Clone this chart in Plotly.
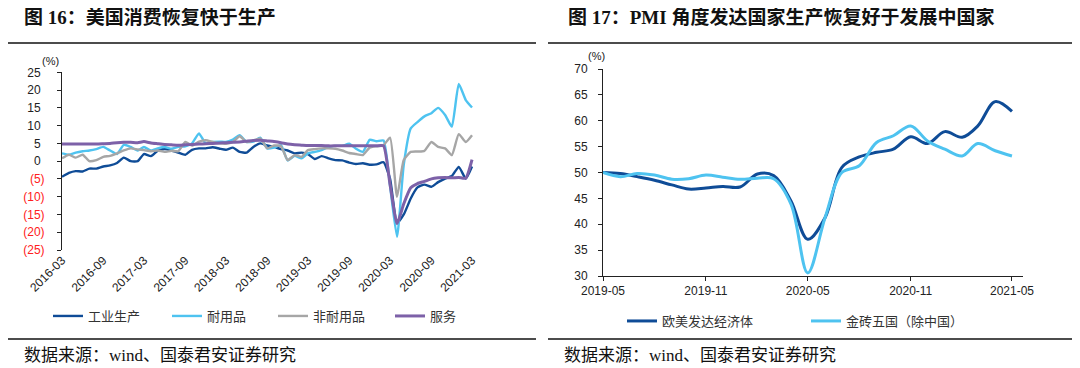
import pandas as pd
import plotly.graph_objects as go

# ---------------- data: left chart (图16) ----------------
left_months = pd.date_range("2016-03-01", "2021-03-01", freq="MS")
industrial = [-4.4, -3.3, -2.8, -2.9, -2.1, -2.1, -1.5, -1.2, -0.5, 1.0,
              0.0, 0.0, 2.0, 1.4, 2.9, 3.4, 3.0, 2.4, 1.8, 3.2,
              3.6, 3.6, 3.9, 3.5, 3.2, 3.8, 2.6, 2.4, 4.0, 5.0,
              4.4, 4.0, 3.4, 3.0, 2.2, 2.4, 2.0, 0.6, 1.4, 0.8,
              0.3, 0.2, -0.4, -0.8, -0.6, -1.0, -0.9, -0.3, -5.0, -17.4,
              -15.0, -10.5, -7.4, -6.6, -7.2, -5.9, -4.9, -4.2, -1.6, -4.9,
              -1.5]
durable = [2.2, 1.8, 2.4, 2.8, 3.0, 3.4, 4.0, 3.0, 2.0, 4.6,
           4.0, 3.0, 4.0, 3.0, 3.6, 4.0, 3.5, 4.0, 4.2, 5.0,
           7.8, 5.0, 5.4, 5.5, 5.4, 6.1, 7.3, 5.4, 5.5, 6.6,
           3.6, 3.8, 4.5, 0.2, 1.5, 0.8, 2.2, 2.6, 3.1, 4.0,
           4.3, 4.3, 4.9, 3.5, 2.6, 6.0, 5.6, 5.8, -7.0, -21.3,
           -1.0, 9.2, 11.0, 12.6, 13.5, 15.0, 13.0, 9.7, 21.7, 17.2,
           15.1]
nondurable = [0.8, 1.8, 1.0, 1.8, 0.0, 0.3, 1.2, 1.5, 2.2, 3.0,
              3.6, 3.3, 3.1, 2.8, 3.0, 2.6, 2.9, 2.8, 5.4, 4.4,
              5.5, 5.9, 5.4, 5.0, 4.9, 5.4, 7.0, 5.4, 5.8, 6.4,
              3.6, 4.4, 4.2, 0.3, 1.7, 1.2, 3.1, 3.4, 3.6, 3.6,
              3.5, 3.0, 2.3, 2.0, 1.7, 3.8, 4.2, 4.5, 6.6, -10.0,
              0.3, 2.6, 2.7, 2.9, 5.4, 4.0, 3.6, 1.7, 7.6, 5.4,
              7.3]
services = [4.8, 4.8, 4.8, 4.8, 4.8, 4.8, 4.9, 5.0, 5.2, 5.3,
            5.3, 5.2, 5.5, 5.1, 4.9, 4.7, 4.6, 4.5, 4.6, 4.7,
            4.8, 4.9, 5.0, 5.1, 5.2, 5.3, 5.4, 5.6, 5.8, 5.9,
            5.7, 5.5, 5.2, 4.8, 4.6, 4.5, 4.4, 4.4, 4.4, 4.3,
            4.3, 4.3, 4.3, 4.3, 4.3, 4.3, 4.3, 4.3, -6.6, -17.6,
            -12.0, -7.5, -6.3, -5.7, -5.0, -4.7, -4.6, -4.7, -4.6, -4.8,
            0.4]
left_names = ["工业生产", "耐用品", "非耐用品", "服务"]
left_tickvals = [25, 20, 15, 10, 5, 0, -5, -10, -15, -20, -25]
left_ticktext = ["25", "20", "15", "10", "5", "0", "(5)", "(10)", "(15)", "(20)", "(25)"]

# ---------------- data: right chart (图17) ----------------
right_months = pd.date_range("2019-05-01", "2021-05-01", freq="MS")
developed = [50.0, 49.8, 49.2, 48.5, 47.6, 46.8, 47.0, 47.3, 47.2, 49.7,
             49.4, 44.5, 37.1, 41.3, 51.0, 53.0, 53.9, 54.5, 56.9, 55.6,
             57.9, 56.8, 59.0, 63.7, 61.8]
brics = [50.0, 49.2, 49.8, 49.5, 48.7, 48.8, 49.5, 49.1, 48.7, 48.9,
         48.8, 43.9, 30.6, 41.3, 50.0, 51.3, 55.8, 57.1, 59.0, 56.1,
         54.5, 53.2, 55.6, 54.2, 53.2]
right_names = ["欧美发达经济体", "金砖五国（除中国）"]

DARK = "#0f4c97"
LIGHT = "#4ec3f0"
GRAY = "#a6a6a6"
PURPLE = "#7d61a8"

# the page body has an 8px margin: size the figure to fit and map page pixels to paper coords
OFF = 8
W, H = 1080 - OFF, 368 - OFF
def px(x): return (x - OFF) / W
def py(y): return 1 - (y - OFF) / H

TICKFONT = dict(family="Liberation Sans, Arial, sans-serif", size=12, color="#222")
LEGFONT = dict(family="Noto Sans CJK SC, sans-serif", size=13, color="#333")

fig = go.Figure()

left_series = [industrial, durable, nondurable, services]
left_colors = [DARK, LIGHT, GRAY, PURPLE]
left_widths = [2.4, 2.4, 2.4, 3.0]
left_legends = ["legend", "legend2", "legend3", "legend4"]
for name, vals, col, w, lg in zip(left_names, left_series, left_colors, left_widths, left_legends):
    fig.add_trace(go.Scatter(x=left_months, y=vals, name=name, mode="lines",
                             line=dict(color=col, width=w, shape="spline", smoothing=0.5),
                             xaxis="x", yaxis="y", legend=lg))

for name, vals, col, lg in zip(right_names, [developed, brics], [DARK, LIGHT], ["legend5", "legend6"]):
    fig.add_trace(go.Scatter(x=right_months, y=vals, name=name, mode="lines",
                             line=dict(color=col, width=3, shape="spline", smoothing=1.0),
                             xaxis="x2", yaxis="y2", legend=lg))

left_dom_x = [px(62), px(476.3)]
left_dom_y = [py(250), py(72.3)]
left_range = ["2016-03-01", "2021-03-20"]
zero_pos = left_dom_y[0] + (0 - (-25)) / 50 * (left_dom_y[1] - left_dom_y[0])

right_dom_x = [px(603), px(1022.6)]
right_dom_y = [py(276), py(69)]
right_range = ["2019-05-01", "2021-05-20"]

# negatives in red parentheses; positives padded like an accounting number format
styled_text = [f'<span style="color:#ff2020">{t}</span>' if t.startswith("(") else t + "\u2004"
               for t in left_ticktext]

fig.update_layout(
    width=W, height=H, margin=dict(l=0, r=0, t=0, b=0, autoexpand=False),
    paper_bgcolor="white", plot_bgcolor="rgba(0,0,0,0)",
    xaxis=dict(domain=left_dom_x, anchor="y", type="date", range=left_range,
               tick0="2016-03-01", dtick="M6", tickformat="%Y-%m", tickangle=-45,
               showline=False, ticks="", showgrid=False, zeroline=False,
               tickfont=TICKFONT, automargin=False),
    xaxis3=dict(overlaying="x", anchor="free", position=zero_pos, type="date", range=left_range,
                tick0="2016-03-01", dtick="M6", showticklabels=False, ticks="outside",
                ticklen=4, tickcolor="#222", showline=True, linecolor="#222", linewidth=1,
                showgrid=False, zeroline=False, automargin=False),
    yaxis=dict(domain=left_dom_y, anchor="x", range=[-25, 25], tickmode="array",
               tickvals=left_tickvals, ticktext=styled_text, showline=True, linecolor="#222",
               linewidth=1, ticks="outside", ticklen=4, tickcolor="#222", showgrid=False,
               zeroline=False, tickfont=TICKFONT, ticklabelstandoff=10, automargin=False),
    xaxis2=dict(domain=right_dom_x, anchor="y2", type="date", range=right_range,
                tick0="2019-05-01", dtick="M6", tickformat="%Y-%m", tickangle=0,
                showline=True, linecolor="#222", linewidth=1, ticks="outside", ticklen=4,
                tickcolor="#222", showgrid=False, zeroline=False, tickfont=TICKFONT,
                automargin=False),
    yaxis2=dict(domain=right_dom_y, anchor="x2", range=[30, 70], dtick=5,
                showline=True, linecolor="#222", linewidth=1, ticks="outside", ticklen=4,
                tickcolor="#222", showgrid=False, zeroline=False, tickfont=TICKFONT,
                ticklabelstandoff=8, automargin=False),
    showlegend=True,
)

def leg(x, y):
    return dict(x=px(x), y=py(y), xanchor="left", yanchor="middle", orientation="h",
                font=LEGFONT, bgcolor="rgba(0,0,0,0)", borderwidth=0, itemwidth=30)

fig.update_layout(
    legend=leg(48, 316), legend2=leg(167, 316), legend3=leg(273, 316), legend4=leg(390, 316),
    legend5=leg(622, 321), legend6=leg(806, 321),
)

TITLEFONT = dict(family="Liberation Serif, Noto Sans CJK SC, serif", size=19, color="#111")
FOOTFONT = dict(family="Liberation Serif, Noto Sans CJK SC, serif", size=17, color="#111")
anns = [
    dict(text="<b>图 16：美国消费恢复快于生产</b>", x=px(22), y=py(17), font=TITLEFONT),
    dict(text="<b>图 17：PMI 角度发达国家生产恢复好于发展中国家</b>", x=px(566), y=py(17), font=TITLEFONT),
    dict(text="数据来源：wind、国泰君安证券研究", x=px(22), y=py(355), font=FOOTFONT),
    dict(text="数据来源：wind、国泰君安证券研究", x=px(562), y=py(355), font=FOOTFONT),
    dict(text="(%)", x=px(40), y=py(61), font=dict(family="Liberation Sans, Arial", size=11, color="#222")),
    dict(text="(%)", x=px(586), y=py(56), font=dict(family="Liberation Sans, Arial", size=11, color="#222")),
]
for a in anns:
    fig.add_annotation(xref="paper", yref="paper", xanchor="left", yanchor="middle",
                       showarrow=False, **a)

rules = [(8, 536, 43), (548, 1075, 43), (8, 536, 339), (548, 1075, 339)]
for x0, x1, y in rules:
    fig.add_shape(type="line", xref="paper", yref="paper", x0=px(x0), x1=px(x1),
                  y0=py(y), y1=py(y), line=dict(color="#111", width=1.5))

fig.write_html("out.html")
